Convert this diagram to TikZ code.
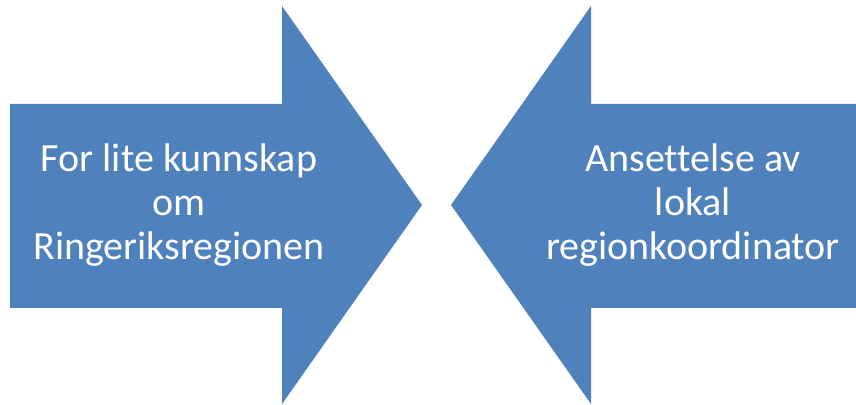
\documentclass[tikz,border=0pt]{standalone}
\usepackage{fontspec}
\setmainfont[Ligatures=CommonOff]{Carlito}
\usepackage{tikz}
\usetikzlibrary{positioning}

\definecolor{arrowblue}{HTML}{4F81BD}

\begin{document}
\begin{tikzpicture}[x=1pt, y=1pt,
	label text/.style={text=white, align=center, font=\fontsize{40}{44}\selectfont}]
	
	% Fix frame
	\useasboundingbox (0,0) rectangle (856,404);
	
	% Draw right pointing arrow
	\fill[arrowblue] (10,96) -- (10,300) -- (282,300) -- (282,398) -- (422,199) -- (282,0) -- (282,96) -- cycle;
	
	% Draw left pointing arrow
	\fill[arrowblue] (856,96) -- (856,300) -- (591,300) -- (591,398) -- (451,199) -- (591,0) -- (591,96) -- cycle;
	
	% Label arrows
	\node[label text] (knowledge) at (179,199) {For lite kunnskap\\om\\Ringeriksregionen};
	\node[label text] (coordinator) at (693,199) {Ansettelse av\\lokal\\regionkoordinator};
	
\end{tikzpicture}
\end{document}
